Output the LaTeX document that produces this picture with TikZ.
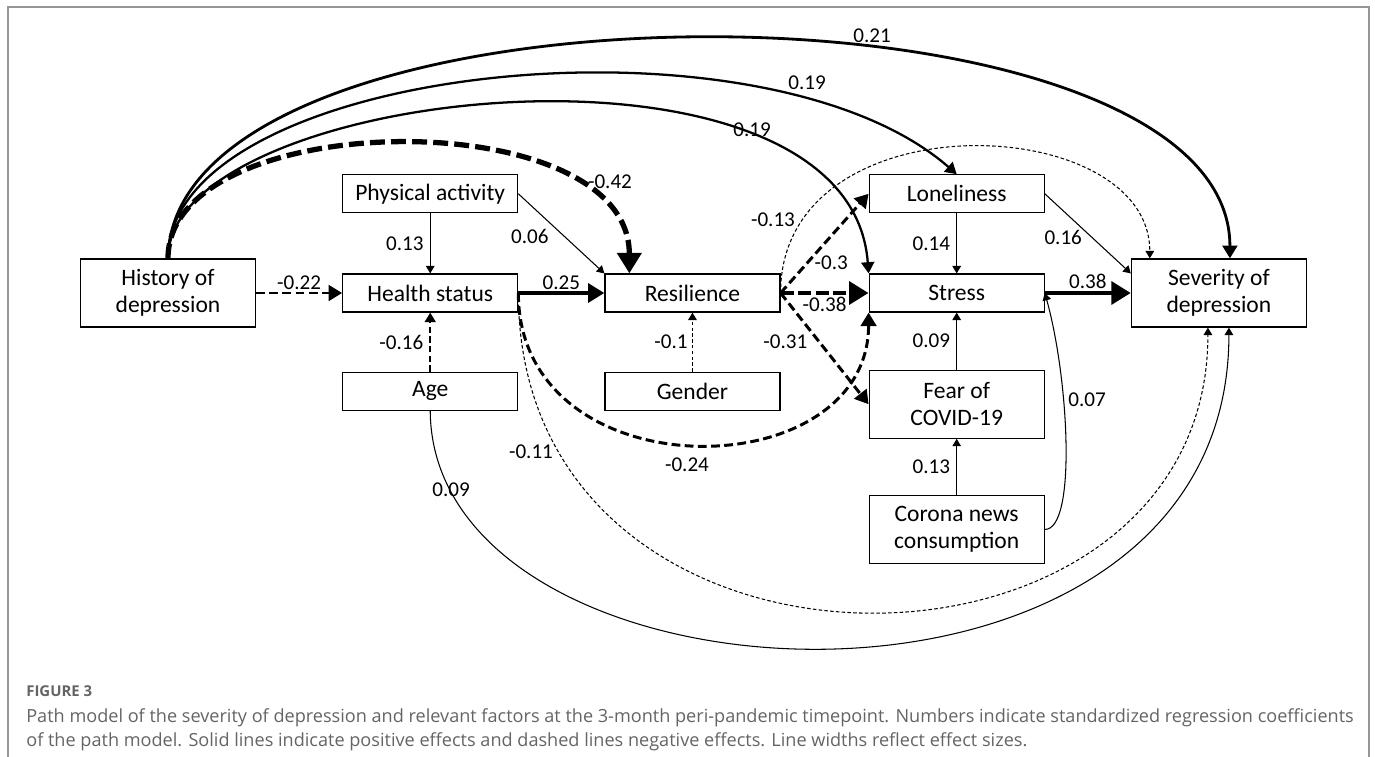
\documentclass[tikz,border=0pt]{standalone}
\usepackage{fontspec}
\setmainfont{Carlito}
\newfontfamily\capfont{Open Sans}
\usetikzlibrary{arrows.meta, positioning}

\definecolor{framegray}{RGB}{150,150,150}
\definecolor{capgray}{RGB}{100,100,100}

\tikzstyle{var} = [rectangle, 
minimum width=3.5cm, 
minimum height=0.76cm, 
text centered, align=center, inner sep=1pt,
draw=black, line width=0.7pt,
font=\fontsize{13.4}{15.6}\selectfont]
\tikzstyle{var2} = [var, minimum height=1.36cm]
\tikzstyle{coef} = [font=\fontsize{12}{14}\selectfont, inner sep=1pt]
\tikzstyle{arr} = [-{Triangle}, draw=black]
\tikzstyle{p1} = [arr, line width=0.6pt]
\tikzstyle{p2} = [arr, line width=1.3pt]
\tikzstyle{p3} = [arr, line width=1.6pt]
\tikzstyle{p4} = [arr, line width=2.2pt]
\tikzstyle{p5} = [arr, line width=2.8pt]
\tikzstyle{n1} = [arr, line width=0.6pt, dash pattern=on 2pt off 1.3pt]
\tikzstyle{n2} = [arr, line width=1pt, dash pattern=on 3.5pt off 2pt]
\tikzstyle{n3} = [arr, line width=1.7pt, dash pattern=on 5pt off 2.5pt]
\tikzstyle{n4} = [arr, line width=2.8pt, dash pattern=on 7.5pt off 2.5pt]
\tikzstyle{n5} = [arr, line width=3pt, dash pattern=on 8.5pt off 3.5pt]

\begin{document}
\begin{tikzpicture}

        \useasboundingbox (0,0) rectangle (27.5,-15.12);
        \draw [framegray, line width=0.6pt] (0.16,-16) -- (0.16,-0.14) -- (27.38,-0.14) -- (27.38,-16);

        % Variables
        \node (hist) [var2] at (3.36,-5.86) {History of\\depression};
        \node (health) [var, right=1.72cm of hist] {Health status};
        \node (phys) [var, above=1.2cm of health] {Physical activity};
        \node (age) [var, below=1.18cm of health] {Age};
        \node (res) [var, right=1.72cm of health] {Resilience};
        \node (gen) [var, below=1.18cm of res] {Gender};
        \node (stress) [var, right=1.76cm of res] {Stress};
        \node (lon) [var, above=1.2cm of stress] {Loneliness};
        \node (fear) [var2, below=1.14cm of stress] {Fear of\\COVID-19};
        \node (news) [var2, below=1.12cm of fear] {Corona news\\consumption};
        \node (sev) [var2, right=1.72cm of stress] {Severity of\\depression};

        % Direct paths
        \draw [n3] (hist) -- (health) node[coef, midway, above] {-0.22};
        \draw [p1] (phys) -- (health) node[coef, midway, left=2.5pt] {0.13};
        \draw [p1] (phys.east) -- (res.north west) node[coef, pos=0.54, left=8pt] {0.06};
        \draw [n2] (age) -- (health) node[coef, midway, left=2.5pt] {-0.16};
        \draw [p4] (health) -- (res) node[coef, midway, above] {0.25};
        \draw [n1] (gen) -- (res) node[coef, midway, left=1.5pt] {-0.1};
        \draw [n3] (res.east) -- (lon.west) node[coef, pos=0.3, right=2.5pt] {-0.3};
        \draw [n4] (res.east) -- (stress.west) node[coef, midway, below] {-0.38};
        \draw [n3] (res.east) -- (fear.west) node[coef, pos=0.44, left=5pt] {-0.31};
        \draw [p1] (lon) -- (stress) node[coef, midway, left=2.5pt] {0.14};
        \draw [p1] (lon.east) -- ([yshift=-0.3cm]sev.north west) node[coef, pos=0.55, left=4.5pt] {0.16};
        \draw [p5] (stress) -- (sev) node[coef, midway, above] {0.38};
        \draw [p1] (fear) -- (stress) node[coef, midway, left=2.5pt] {0.09};
        \draw [p1] (news) -- (fear) node[coef, midway, left=2.5pt] {0.13};

        % Curved paths
        \draw [n5] (hist.north) .. controls +(0,3.04) and +(0,3.46) .. ([xshift=0.5cm]res.north west);
        \draw [p2] (hist.north) .. controls +(0,3.46) and +(-0.38,5.2) .. (stress.north west);
        \draw [p2] (hist.north) .. controls +(0,3.86) and +(-3.94,3.44) .. (lon.north);
        \draw [p3] (hist.north) .. controls +(0.1,5.87) and +(0,5.87) .. ([xshift=0.22cm]sev.north);
        \draw [n1] (res.east) .. controls +(0,3.92) and +(0,2.96) .. ([xshift=0.38cm]sev.north west);
        \draw [n3] (health.east) .. controls +(0,-4.02) and +(0,-3.54) .. (stress.south west);
        \draw [n1] (health.east) .. controls +(0,-8.5) and +(0,-7.6) .. ([xshift=-0.22cm]sev.south);
        \draw [p1] (age.south) .. controls +(0.04,-6.22) and +(0,-8.66) .. ([xshift=0.2cm]sev.south);
        \draw [p1] (news.east) .. controls +(0.64,0) and +(0.48,-1.72) .. (stress.east);

        % Coefficients of curved paths
        \node (c21) [coef] at (17.44,-0.72) {0.21};
        \node (c19a) [coef] at (16.14,-1.66) {0.19};
        \node (c19b) [coef] at (15.04,-2.6) {0.19};
        \node (c42) [coef] at (12.2,-3.64) {-0.42};
        \node (c13) [coef] at (15.46,-4.4) {-0.13};
        \node (c24) [coef] at (13.74,-9.3) {-0.24};
        \node (c11) [coef] at (10.62,-9.04) {-0.11};
        \node (c09) [coef] at (9.02,-9.8) {0.09};
        \node (c07) [coef] at (21.74,-8.0) {0.07};

        % Caption
        \node (fignum) [anchor=west, inner sep=0, text=capgray, font=\capfont\bfseries\fontsize{8.5}{10}\selectfont] at (0.52,-13.82) {FIGURE 3};
        \node (caption) [anchor=north west, inner sep=0, align=left, text=capgray, font=\capfont\fontsize{10.3}{13.6}\selectfont] at (0.52,-14.17) {Path model of the severity of depression and relevant factors at the 3-month peri-pandemic timepoint. Numbers indicate standardized regression coefficients\\of the path model. Solid lines indicate positive effects and dashed lines negative effects. Line widths reflect effect sizes.};

    \end{tikzpicture}
\end{document}
